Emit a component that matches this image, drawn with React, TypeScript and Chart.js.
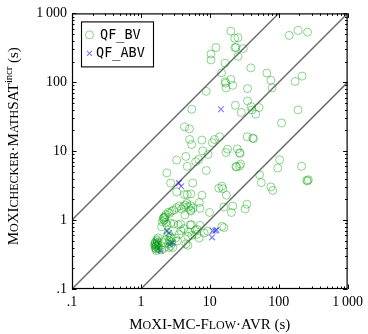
import React, { useEffect, useRef } from "react";
import { Chart, registerables } from "chart.js";
Chart.register(...registerables);

const AXIS_MIN = 0.1;
const AXIS_MAX = 1000;
const tickValues = [0.1, 1, 10, 100, 1000];
const tickLabels = [".1", "1", "10", "100", "1\u2009000"];
const diagFactors = [10, 1, 0.1];

const seriesNames = ["QF_BV", "QF_ABV"];

const qfBvX = [
  20.2, 23, 25.7, 12.3, 23.2, 24, 30.6, 10.4, 10.4, 25.7, 16.7, 142, 191, 262, 39.4, 14.8, 20.2, 16.7, 17, 21.5,
  17.2, 8.87, 35.3, 67.4, 76.9, 80.3, 173, 218, 191, 110, 5.47, 23.5, 28.6, 35.3, 39.8, 46.4, 51.8, 41,
  4.3, 5.07, 5.1, 5.47, 7.69, 11.7, 13.9, 10.9, 7.9, 9.46, 18.1, 17.2, 25.1, 27, 27.5, 34.9, 42, 43,
  4.49, 3.3, 6.24, 6.9, 8.9, 4.7, 2.38, 2.7, 5.65, 3.3, 4.3, 4.7, 5.3, 7.7, 23.9, 24.5, 28, 27,
  52.8, 55.9, 96.8, 103, 215, 255, 262, 270, 76.9, 82, 13.5, 15, 15.5, 17.4, 16, 21.5, 20.6, 32.6, 34.6, 9.9, 15, 16,
  1.6, 1.65, 1.7, 1.62, 1.75, 1.68, 1.72, 1.58, 1.8, 1.66, 1.74, 1.63, 1.7, 1.85, 1.78, 1.6, 1.67,
  2.4, 2.5, 2.6, 2.7, 2.8, 2.5, 2.9, 2.3, 2.65, 2.2, 2.0, 2.1, 2.55, 2.75,
  3.2, 3.6, 3.4, 4.5, 4.8, 5.5, 6.2, 7.0, 6.5, 3.8, 4.2, 5.2, 8.3, 4.8, 6.6, 7.2, 9.35, 5.4, 4.9, 3.77,
  2.1, 2.15, 2.2, 2.05, 2.3, 2.5, 2.8, 2.6, 2.4, 2.0, 2.7, 3.0, 3.3, 3.6, 3.9, 4.4, 4.9, 5.3, 5.7, 2.3, 3.0, 3.5,
  2.18, 2.25, 4.35, 4.16, 4.64, 5.3, 7.05, 7.2, 5.3,
];
const qfBvY = [
  553, 435, 445, 320, 318, 322, 309, 257, 211, 238, 189, 480, 565, 535, 162, 137, 110, 102, 97, 90.6,
  83, 74, 81, 136, 107, 83, 103, 123, 39.8, 25.7, 40.6, 46.4, 36.5, 53.5, 44.4, 34.5, 43, 39.8,
  22.5, 21.1, 14.8, 12.5, 14.5, 14.8, 16.2, 13.3, 10.1, 8.96, 10.7, 9.57, 10.8, 9.5, 9.3, 16.2, 15.5, 15.2,
  8.4, 7.43, 7.04, 7.6, 5.24, 6.04, 4.85, 3.45, 3.45, 2.57, 2.35, 2.35, 2.4, 2.3, 6.0, 5.9, 6.5, 6.1,
  4.54, 3.5, 5.7, 7.5, 6.05, 3.77, 3.7, 3.85, 3.03, 2.7, 2.9, 3.1, 2.85, 2.3, 1.55, 1.6, 1.29, 1.45, 1.7, 1.29, 0.81, 0.78,
  0.42, 0.38, 0.45, 0.48, 0.4, 0.36, 0.5, 0.44, 0.43, 0.41, 0.47, 0.39, 0.52, 0.38, 0.55, 0.46, 0.43,
  0.6, 0.45, 0.5, 0.42, 0.48, 0.65, 0.4, 0.52, 0.58, 0.4, 0.37, 0.47, 0.4, 0.55,
  0.55, 0.62, 0.5, 0.45, 0.58, 0.6, 0.72, 0.55, 0.62, 0.7, 0.75, 0.85, 0.65, 0.43, 0.73, 0.84, 0.69, 0.86, 0.67, 0.88,
  1.05, 1.1, 1.08, 0.95, 1.2, 1.3, 1.35, 1.25, 0.85, 0.8, 0.9, 1.4, 1.5, 1.6, 1.45, 1.65, 1.55, 1.35, 1.5, 0.92, 0.88, 0.85,
  1.0, 1.12, 1.19, 1.57, 1.75, 1.62, 1.8, 1.48, 1.4,
];

const qfAbvX = [14.5, 3.55, 3.85, 11, 12, 10.8, 12.5, 1.69, 1.93, 2.38, 2.55, 2.7, 2.9, 1.7, 2.6, 1.75];
const qfAbvY = [40.6, 3.45, 3.1, 0.7, 0.7, 0.56, 0.72, 0.495, 0.36, 0.69, 0.65, 0.47, 0.47, 0.42, 0.44, 0.38];

const SERIF = "'Liberation Serif', 'DejaVu Serif', serif";
const MONO = "'DejaVu Sans Mono', 'Liberation Mono', monospace";

type Seg = { text: string; sc?: boolean; sup?: boolean };

const xTitle: Seg[] = [{ text: "MoXI-MC-Flow·AVR", sc: true }, { text: " (s)" }];
const yTitle: Seg[] = [
  { text: "MoXIchecker·MathSAT", sc: true },
  { text: "incr", sup: true },
  { text: " (s)" },
];

function drawRich(ctx: CanvasRenderingContext2D, segs: Seg[], cx: number, baseline: number, size: number) {
  const SC = 0.8;
  const pieces: { t: string; s: number; dy: number }[] = [];
  for (const seg of segs) {
    if (seg.sup) {
      pieces.push({ t: seg.text, s: size * 0.7, dy: -size * 0.42 });
    } else if (seg.sc) {
      let cur = "";
      let curLower: boolean | null = null;
      for (const ch of seg.text) {
        const lower = ch !== ch.toUpperCase() && ch === ch.toLowerCase();
        if (curLower === null || lower === curLower) {
          cur += ch;
          curLower = lower;
        } else {
          pieces.push({ t: curLower ? cur.toUpperCase() : cur, s: curLower ? size * SC : size, dy: 0 });
          cur = ch;
          curLower = lower;
        }
      }
      if (cur) pieces.push({ t: curLower ? cur.toUpperCase() : cur, s: curLower ? size * SC : size, dy: 0 });
    } else {
      pieces.push({ t: seg.text, s: size, dy: 0 });
    }
  }
  let total = 0;
  const widths: number[] = [];
  for (const p of pieces) {
    ctx.font = `${p.s}px ${SERIF}`;
    const w = ctx.measureText(p.t).width;
    widths.push(w);
    total += w;
  }
  let x = cx - total / 2;
  ctx.textAlign = "left";
  ctx.textBaseline = "alphabetic";
  pieces.forEach((p, i) => {
    ctx.font = `${p.s}px ${SERIF}`;
    ctx.fillText(p.t, x, baseline + p.dy);
    x += widths[i];
  });
}

const framePlugin = {
  id: "framePlugin",
  afterDatasetsDraw(chart: any) {
    const { ctx, chartArea: a } = chart;
    const xs = chart.scales.x;
    const ys = chart.scales.y;
    ctx.save();
    ctx.strokeStyle = "#000";
    ctx.lineWidth = 1;
    const vals: { v: number; major: boolean }[] = [];
    for (let d = AXIS_MIN; d < AXIS_MAX * 0.99; d *= 10) {
      for (let m = 1; m <= 9; m++) vals.push({ v: d * m, major: m === 1 });
    }
    vals.push({ v: AXIS_MAX, major: true });
    ctx.beginPath();
    for (const { v, major } of vals) {
      const len = major ? 4.5 : 2.5;
      const px = Math.round(xs.getPixelForValue(v)) + 0.5;
      ctx.moveTo(px, a.bottom);
      ctx.lineTo(px, a.bottom - len);
      ctx.moveTo(px, a.top);
      ctx.lineTo(px, a.top + len);
      const py = Math.round(ys.getPixelForValue(v)) + 0.5;
      ctx.moveTo(a.left, py);
      ctx.lineTo(a.left + len, py);
      ctx.moveTo(a.right, py);
      ctx.lineTo(a.right - len, py);
    }
    ctx.stroke();
    ctx.lineWidth = 1.2;
    ctx.strokeRect(a.left + 0.5, a.top + 0.5, a.right - a.left - 1, a.bottom - a.top - 1);

    // legend
    const bx = a.left + 9, by = a.top + 8, bw = 72, bh = 45;
    ctx.fillStyle = "#fff";
    ctx.fillRect(bx, by, bw, bh);
    ctx.lineWidth = 1.1;
    ctx.strokeRect(bx + 0.5, by + 0.5, bw, bh);
    const ds = chart.data.datasets;
    ctx.strokeStyle = ds[0].borderColor;
    ctx.lineWidth = 1;
    ctx.beginPath();
    ctx.arc(bx + 8.5, by + 13.5, 4, 0, Math.PI * 2);
    ctx.stroke();
    ctx.strokeStyle = ds[1].borderColor;
    ctx.lineWidth = 1.2;
    const cx = bx + 8.5, cy = by + 32;
    const r = 2.5;
    ctx.beginPath();
    ctx.moveTo(cx - r, cy - r);
    ctx.lineTo(cx + r, cy + r);
    ctx.moveTo(cx - r, cy + r);
    ctx.lineTo(cx + r, cy - r);
    ctx.stroke();
    ctx.fillStyle = "#000";
    ctx.font = `13.5px ${MONO}`;
    ctx.textAlign = "left";
    ctx.textBaseline = "middle";
    ctx.fillText(ds[0].label, bx + 19, by + 14);
    ctx.fillText(ds[1].label, bx + 15, by + 32.5);

    // axis titles
    ctx.fillStyle = "#000";
    drawRich(ctx, xTitle, (a.left + a.right) / 2, 329, 15);
    ctx.save();
    ctx.translate(18, (a.top + a.bottom) / 2 - 5);
    ctx.rotate(-Math.PI / 2);
    drawRich(ctx, yTitle, 0, 0, 15);
    ctx.restore();
    ctx.restore();
  },
};

export default function App() {
  const ref = useRef<HTMLCanvasElement>(null);
  useEffect(() => {
    if (!ref.current) return;
    const bv = qfBvX.map((x, i) => ({ x, y: qfBvY[i] }));
    const abv = qfAbvX.map((x, i) => ({ x, y: qfAbvY[i] }));
    const lines = diagFactors.map((f) => ({
      type: "line" as const,
      label: `diag${f}`,
      data: [
        { x: AXIS_MIN, y: AXIS_MIN * f },
        { x: AXIS_MAX, y: AXIS_MAX * f },
      ],
      borderColor: "rgb(105,105,105)",
      borderWidth: 1.4,
      pointRadius: 0,
      showLine: true,
      fill: false,
    }));
    const logScale = (pos: "bottom" | "left") => ({
      type: "logarithmic" as const,
      position: pos,
      min: AXIS_MIN,
      max: AXIS_MAX,
      grid: { display: false, drawTicks: false },
      border: { display: false },
      afterBuildTicks: (scale: any) => {
        scale.ticks = tickValues.map((v) => ({ value: v }));
      },
      afterFit: (scale: any) => {
        if (pos === "bottom") scale.height = 45;
        else scale.width = 72;
      },
      ticks: {
        autoSkip: false,
        maxRotation: 0,
        color: "#000",
        padding: 5,
        font: { family: SERIF, size: 14 },
        callback: (_v: any, i: number) => tickLabels[i],
      },
    });
    const chart = new Chart(ref.current, {
      type: "scatter",
      data: {
        datasets: [
          {
            label: seriesNames[0],
            data: bv,
            pointStyle: "circle",
            pointRadius: 4,
            pointBorderWidth: 1,
            borderColor: "rgba(0,160,0,0.45)",
            backgroundColor: "rgba(0,0,0,0)",
          },
          {
            label: seriesNames[1],
            data: abv,
            pointStyle: "crossRot",
            pointRadius: 4,
            pointBorderWidth: 1.2,
            borderColor: "rgba(0,0,255,0.5)",
            backgroundColor: "rgba(0,0,0,0)",
          },
          ...lines,
        ] as any,
      },
      options: {
        animation: false,
        responsive: false,
        layout: { padding: { top: 9, right: 16, left: 0, bottom: 0 } },
        plugins: { legend: { display: false }, tooltip: { enabled: false } },
        scales: { x: logScale("bottom"), y: logScale("left") } as any,
      },
      plugins: [framePlugin],
    });
    return () => chart.destroy();
  }, []);
  return (
    <div style={{ position: "absolute", left: 0, top: 0, width: 368, height: 334, background: "#fff" }}>
      <canvas ref={ref} width={368} height={334} />
    </div>
  );
}
